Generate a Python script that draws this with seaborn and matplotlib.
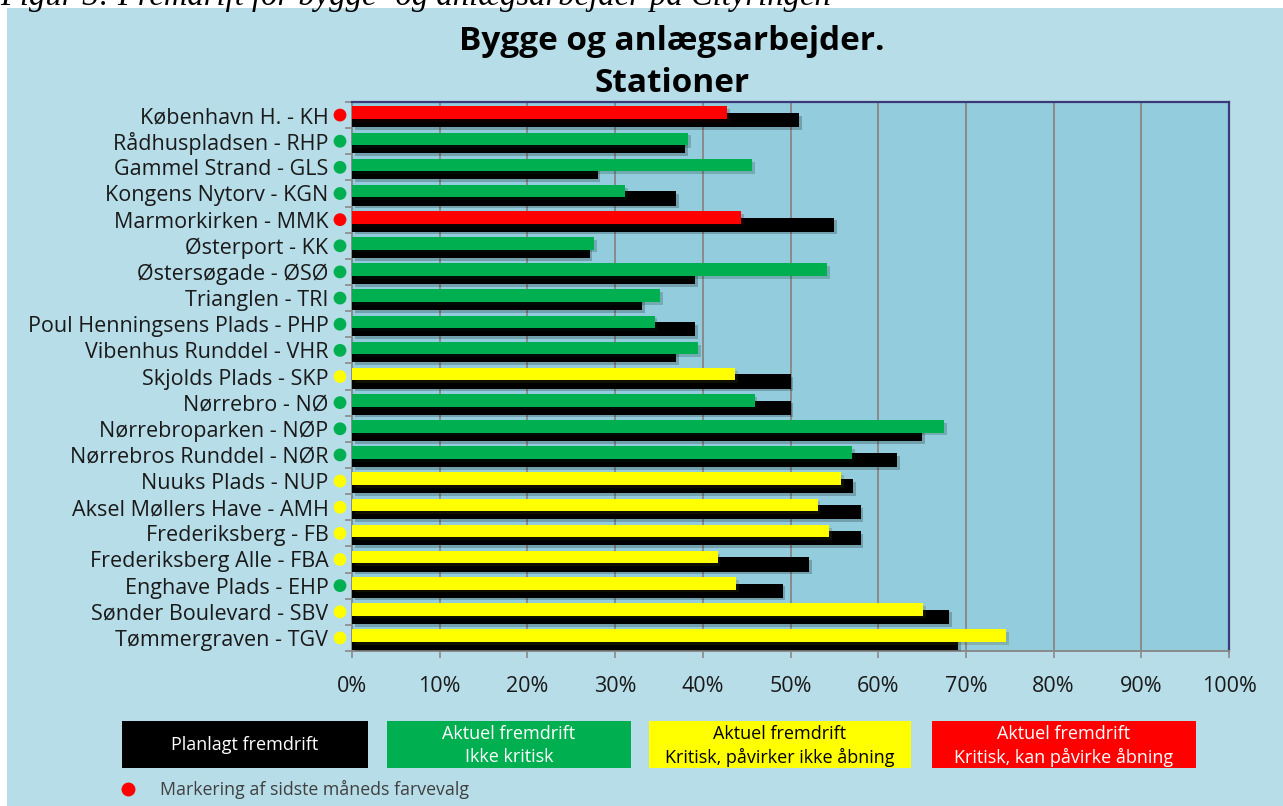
import matplotlib
matplotlib.use("Agg")
import numpy as np
import pandas as pd
import matplotlib.pyplot as plt
import seaborn as sns
from matplotlib.patches import Rectangle
from matplotlib import patheffects as pe
import matplotlib.transforms as mtransforms

# ---------------- data ----------------
stations = [
    "København H. - KH", "Rådhuspladsen - RHP", "Gammel Strand - GLS",
    "Kongens Nytorv - KGN", "Marmorkirken - MMK", "Østerport - KK",
    "Østersøgade - ØSØ", "Trianglen - TRI", "Poul Henningsens Plads - PHP",
    "Vibenhus Runddel - VHR", "Skjolds Plads - SKP", "Nørrebro - NØ",
    "Nørrebroparken - NØP", "Nørrebros Runddel - NØR", "Nuuks Plads - NUP",
    "Aksel Møllers Have - AMH", "Frederiksberg - FB", "Frederiksberg Alle - FBA",
    "Enghave Plads - EHP", "Sønder Boulevard - SBV", "Tømmergraven - TGV",
]
planned = [51.0, 38.0, 28.0, 37.0, 55.0, 27.1, 39.1, 33.1, 39.1, 37.0, 50.0,
           50.0, 65.0, 62.2, 57.1, 58.0, 58.0, 52.1, 49.1, 68.1, 69.1]
actual = [42.8, 38.3, 45.6, 31.1, 44.4, 27.6, 54.2, 35.1, 34.5, 39.5, 43.7,
          45.9, 67.5, 57.0, 55.8, 53.1, 54.4, 41.7, 43.8, 65.1, 74.6]
status = ["red", "green", "green", "green", "red", "green", "green", "green",
          "green", "green", "yellow", "green", "green", "green", "yellow",
          "yellow", "yellow", "yellow", "yellow", "yellow", "yellow"]
last_month = ["red", "green", "green", "green", "red", "green", "green", "green",
              "green", "green", "yellow", "green", "green", "green", "yellow",
              "yellow", "yellow", "yellow", "green", "yellow", "yellow"]
xticks = [0, 10, 20, 30, 40, 50, 60, 70, 80, 90, 100]
xtick_labels = [f"{v}%" for v in xticks]
legend_labels = ["Planlagt fremdrift",
                 "Aktuel fremdrift\nIkke kritisk",
                 "Aktuel fremdrift\nKritisk, påvirker ikke åbning",
                 "Aktuel fremdrift\nKritisk, kan påvirke åbning"]
title_lines = ["Bygge og anlægsarbejder.", "Stationer"]
caption = "Figur 3: Fremdrift for bygge- og anlægsarbejder på Cityringen"
note = "Markering af sidste måneds farvevalg"

# ---------------- style ----------------
COLORS = {"green": "#00b050", "yellow": "#ffff00", "red": "#ff0000"}
PANEL = "#b7dde8"
PLOTBG = "#93cddd"
FONT = ["Open Sans", "DejaVu Sans"]

sns.set_style("white")
plt.rcParams["font.family"] = FONT

W, H = 1283, 806
fig = plt.figure(figsize=(W / 100, H / 100), dpi=100)
fig.patch.set_facecolor("white")
fig.patches.append(Rectangle((7 / W, 0), 1 - 7 / W, 1 - 8 / H,
                             transform=fig.transFigure, facecolor=PANEL,
                             edgecolor="none", zorder=-10))

def px(x0, y0, x1, y1):
    return [x0 / W, 1 - y1 / H, (x1 - x0) / W, (y1 - y0) / H]

ax = fig.add_axes(px(352, 102, 1229, 651))
ax.set_facecolor(PLOTBG)

n = len(stations)
idx = np.arange(n)
df = pd.DataFrame({
    "station": stations, "planned": planned, "actual": actual,
    "status": status, "pos_planned": idx + 0.19, "pos_actual": idx - 0.09,
})

shadow = [pe.SimplePatchShadow(offset=(2, -2), alpha=0.22), pe.Normal()]

sns.barplot(data=df, x="planned", y="pos_planned", orient="h", native_scale=True,
            width=0.54, color="black", saturation=1, errorbar=None, ax=ax)
n_black = len(ax.patches)
sns.barplot(data=df, x="actual", y="pos_actual", orient="h", native_scale=True,
            width=0.48, hue="status", palette=COLORS, dodge=False, saturation=1,
            errorbar=None, legend=False, ax=ax)
for p in ax.patches:
    p.set_edgecolor("none")
    p.set_path_effects(shadow)
    p.set_zorder(3)
for p in ax.patches[n_black:]:
    p.set_zorder(4)

ax.set_xlim(0, 100)
ax.set_ylim(n - 0.5, -0.5)
ax.set_xticks(xticks)
ax.set_xticklabels(xtick_labels)
ax.set_yticks(idx)
ax.set_yticklabels(stations)
ax.set_yticks(np.arange(n + 1) - 0.5, minor=True)
ax.set_xlabel("")
ax.set_ylabel("")
ax.grid(axis="x", color="#8a8a8a", linewidth=1.4, zorder=1)
ax.set_axisbelow(True)
ax.tick_params(axis="y", which="major", length=0, pad=17, labelsize=15.5,
               labelcolor="#1a1a1a")
ax.tick_params(axis="y", which="minor", length=5, width=1.2, color="#8a8a8a",
               direction="out", left=True)
ax.tick_params(axis="x", which="major", length=5, width=1.2, color="#8a8a8a",
               direction="out", bottom=True, pad=13, labelsize=15.5,
               labelcolor="#1a1a1a")
for side in ("top", "right"):
    ax.spines[side].set_color("#3a3a7a")
    ax.spines[side].set_linewidth(1.6)
for side in ("left", "bottom"):
    ax.spines[side].set_color("#8a8a8a")
    ax.spines[side].set_linewidth(1.4)
    ax.spines[side].set_visible(True)

# last month's colour markers
blend = mtransforms.blended_transform_factory(ax.transAxes, ax.transData)
ax.scatter(np.full(n, -12 / 877), idx, transform=blend,
           c=[COLORS[c] for c in last_month], s=85, linewidths=0,
           clip_on=False, zorder=6)

# titles
fig.text(672 / W, 1 - 41 / H, title_lines[0], ha="center", va="center",
         fontsize=24, fontweight="bold", color="black")
fig.text(672 / W, 1 - 84 / H, title_lines[1], ha="center", va="center",
         fontsize=24, fontweight="bold", color="black")

# caption at the very top (cropped in the original screenshot)
fig.text(0 / W, 1 - 5 / H, caption, ha="left", va="baseline",
         fontsize=23.5, style="italic", family=["Liberation Serif", "DejaVu Serif"],
         color="black")

# legend boxes
boxes = [(122, 368, "black", "white"), (387, 631, COLORS["green"], "white"),
         (649, 911, COLORS["yellow"], "black"), (932, 1196, COLORS["red"], "white")]
for (x0, x1, fc, tc), lab in zip(boxes, legend_labels):
    fig.patches.append(Rectangle((x0 / W, 1 - 768 / H), (x1 - x0) / W, 47 / H,
                                 transform=fig.transFigure, facecolor=fc,
                                 edgecolor="none", zorder=2))
    lines = lab.split("\n")
    if len(lines) == 1:
        fig.text((x0 + x1) / 2 / W, 1 - 745 / H, lines[0], ha="center",
                 va="center", fontsize=13, color=tc, zorder=3)
    else:
        fig.text((x0 + x1) / 2 / W, 1 - 734 / H, lines[0], ha="center",
                 va="center", fontsize=13, color=tc, zorder=3)
        fig.text((x0 + x1) / 2 / W, 1 - 757 / H, lines[1], ha="center",
                 va="center", fontsize=13, color=tc, zorder=3)

fig.add_artist(plt.Line2D([128 / W], [1 - 789 / H], marker="o", markersize=9,
                          color=COLORS["red"], linestyle="none",
                          transform=fig.transFigure))
fig.text(160 / W, 1 - 789 / H, note, ha="left", va="center", fontsize=12.8,
         color="#404040")

fig.savefig("out.png", dpi=100, facecolor=fig.get_facecolor())
